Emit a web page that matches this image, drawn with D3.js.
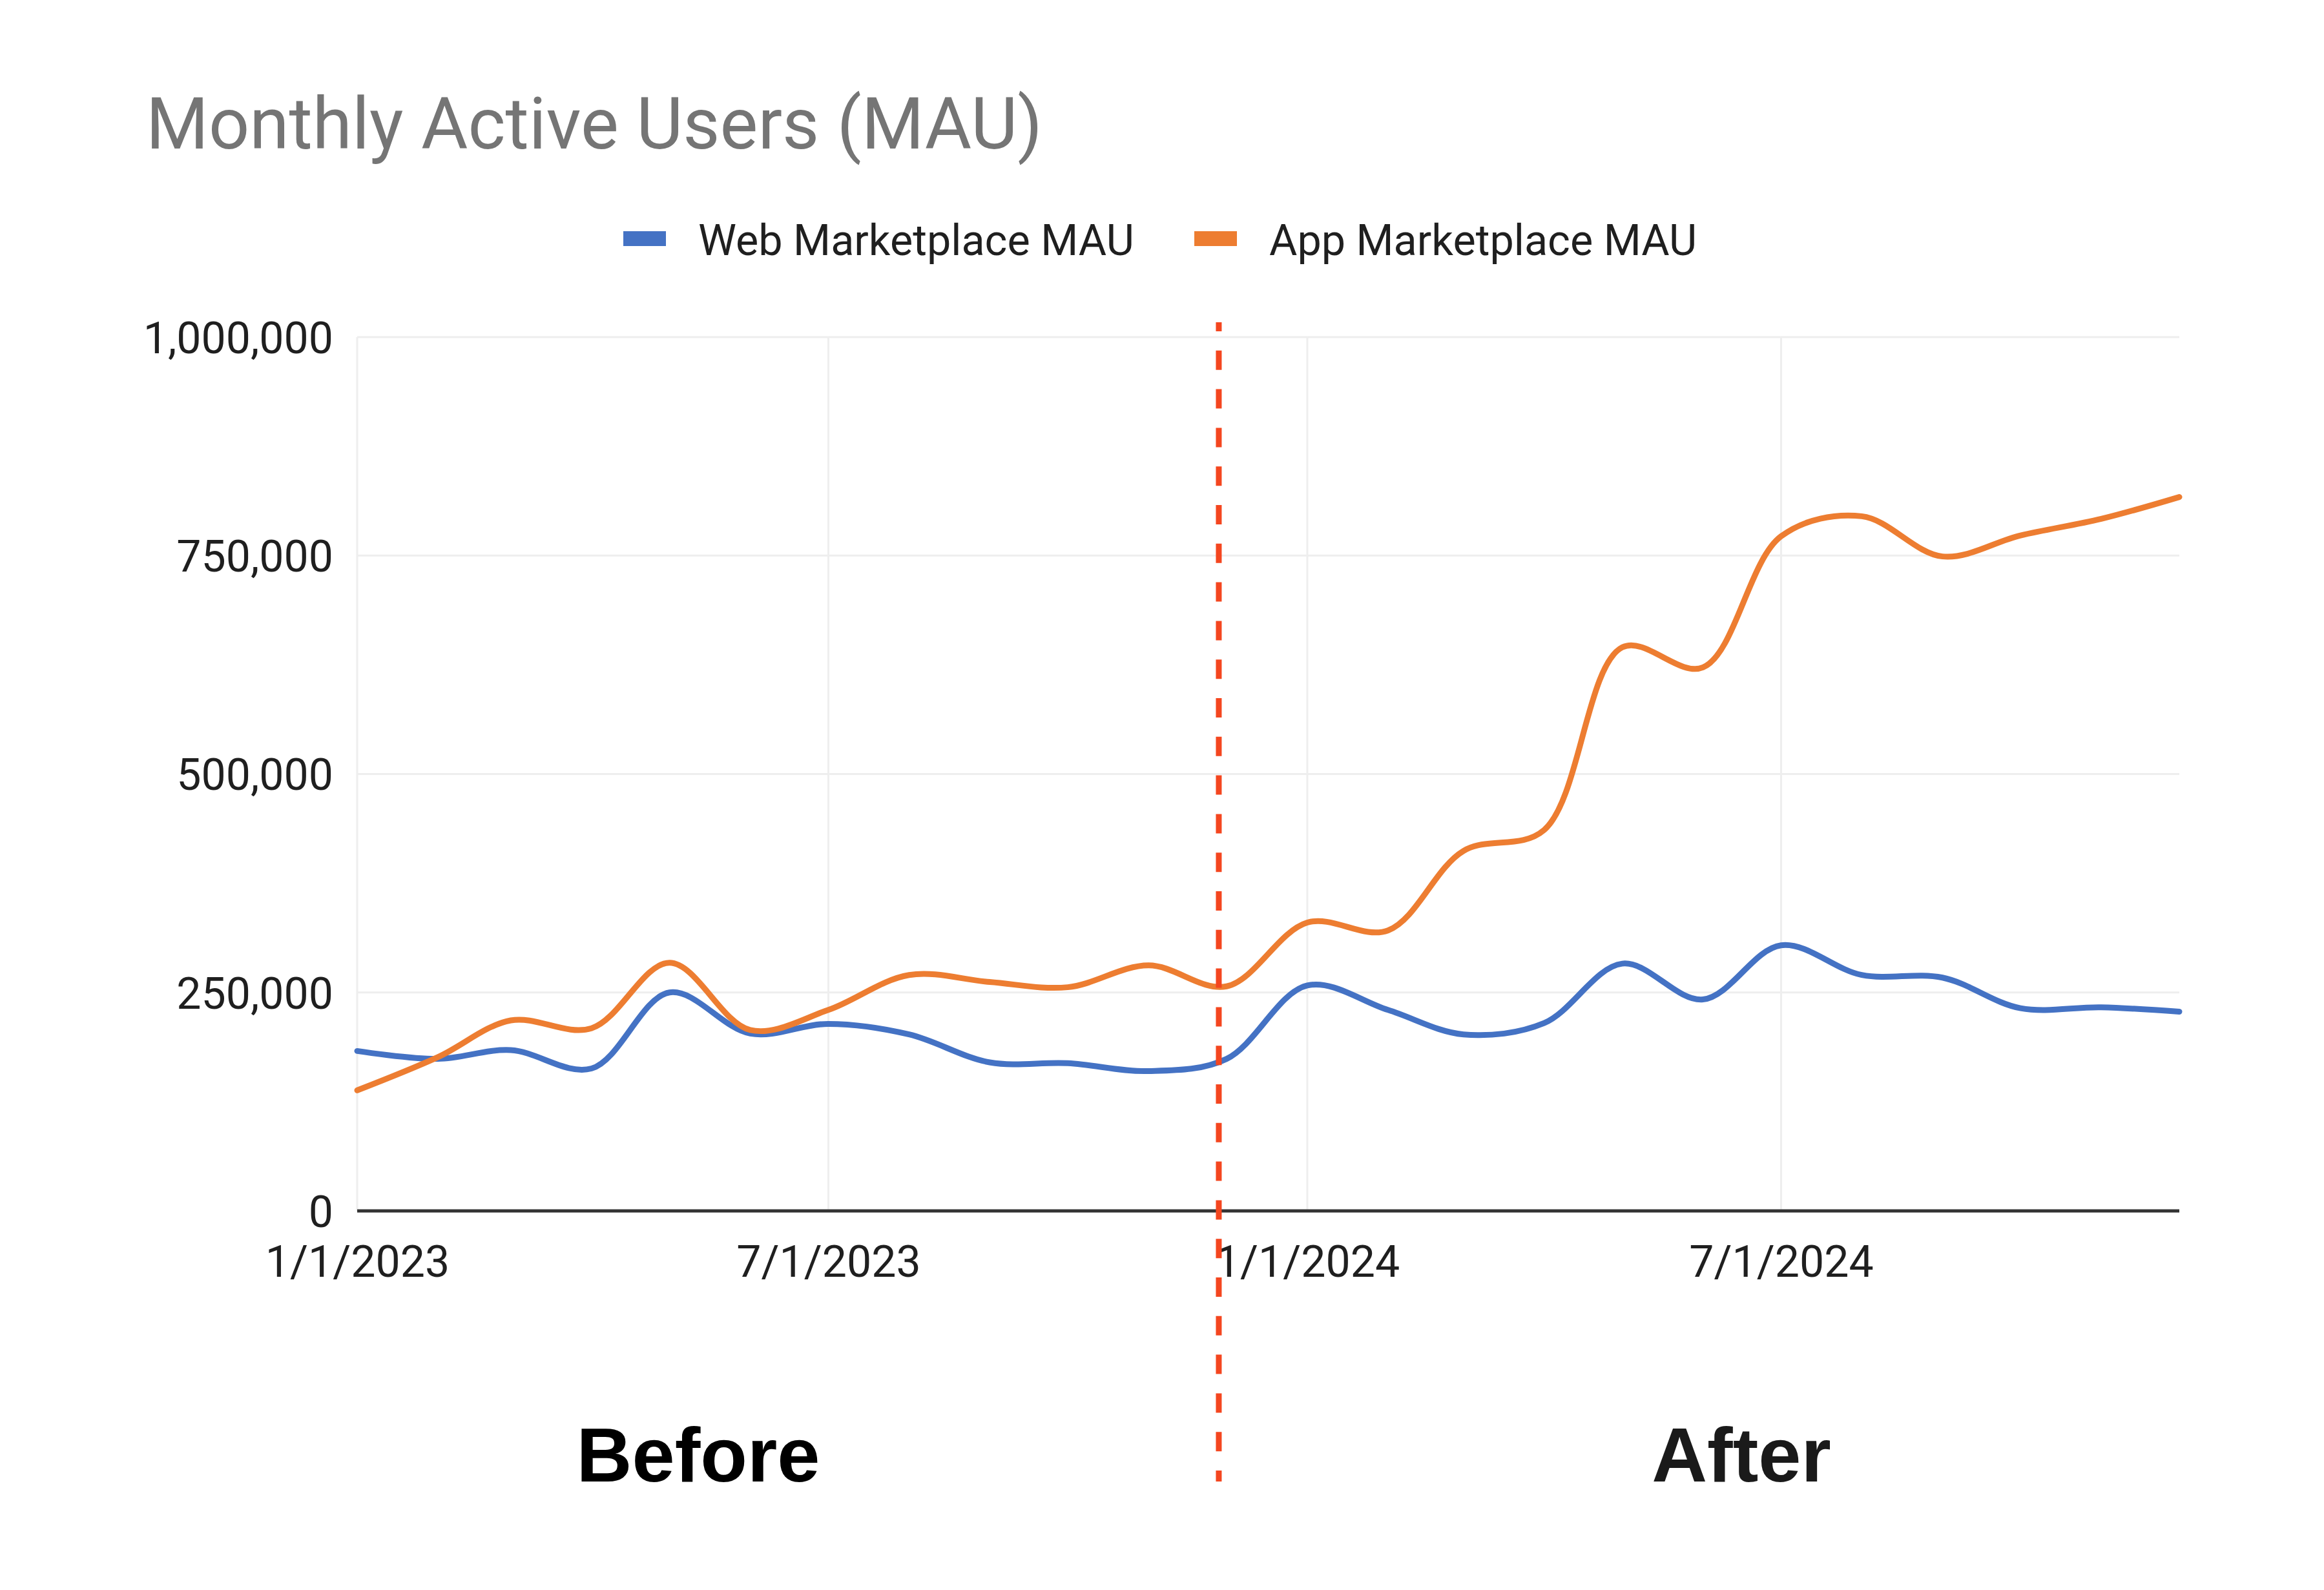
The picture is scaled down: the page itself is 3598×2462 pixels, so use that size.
<!DOCTYPE html>
<html>
<head>
<meta charset="utf-8">
<script src="https://cdn.jsdelivr.net/npm/d3@7"></script>
<style>
  html, body { margin: 0; padding: 0; background: #fff; }
  svg { display: block; }
</style>
</head>
<body>
<svg id="chart"></svg>
<script>
const WIDTH = 3598;
const HEIGHT = 2462;

// --- Data (monthly) ---
const months = [
    "2023-01-01", "2023-02-01", "2023-03-01", "2023-04-01", "2023-05-01", "2023-06-01",
    "2023-07-01", "2023-08-01", "2023-09-01", "2023-10-01", "2023-11-01", "2023-12-01",
    "2024-01-01", "2024-02-01", "2024-03-01", "2024-04-01", "2024-05-01", "2024-06-01",
    "2024-07-01", "2024-08-01", "2024-09-01", "2024-10-01", "2024-11-01", "2024-12-01"
];
const webMAU = [
    183000, 174000, 184000, 163000, 250000, 203000,
    214000, 202000, 170000, 169000, 160000, 174000,
    258000, 230000, 202000, 215000, 283000, 242000,
    304000, 270000, 267000, 232000, 233000, 228000
];
const appMAU = [
    138000, 176000, 218000, 209000, 284000, 207000,
    230000, 270000, 262000, 256000, 281000, 257000,
    330000, 321000, 412000, 436000, 645000, 622000,
    772000, 795000, 749000, 773000, 792000, 817000
];
const seriesNames = ["Web Marketplace MAU", "App Marketplace MAU"];
const seriesColors = ["#4472c4", "#ed7d31"];
const yTicks = [0, 250000, 500000, 750000, 1000000];
const xTicks = ["2023-01-01", "2023-07-01", "2024-01-01", "2024-07-01"];
const dividerDate = "2023-11-28";
const periodLabels = ["Before", "After"];

const parseDate = d3.timeParse("%Y-%m-%d");
const dates = months.map(parseDate);

// --- Layout ---
const plot = { left: 553, right: 3374, top: 522, bottom: 1875 };

const svg = d3.select("#chart")
    .attr("width", WIDTH)
    .attr("height", HEIGHT)
    .attr("viewBox", [0, 0, WIDTH, HEIGHT]);

svg.append("rect")
    .attr("width", WIDTH)
    .attr("height", HEIGHT)
    .attr("fill", "#fff");

const x = d3.scaleTime()
    .domain([dates[0], dates[dates.length - 1]])
    .range([plot.left, plot.right]);

const y = d3.scaleLinear()
    .domain([0, 1000000])
    .range([plot.bottom, plot.top]);

// Title
svg.append("text")
    .attr("x", 226)
    .attr("y", 230)
    .attr("font-family", "Roboto, sans-serif")
    .attr("font-size", 111)
    .attr("fill", "#757575")
    .text("Monthly Active Users (MAU)");

// Legend
const legendX = [965, 1849];
seriesNames.forEach((name, i) => {
    const g = svg.append("g").attr("transform", `translate(${legendX[i]},358)`);
    g.append("rect")
        .attr("width", 66)
        .attr("height", 23)
        .attr("fill", seriesColors[i]);
    g.append("text")
        .attr("x", 116)
        .attr("y", 37)
        .attr("font-family", "Roboto, sans-serif")
        .attr("font-size", 66.5)
        .attr("fill", "#1f1f1f")
        .text(name);
});

// Gridlines
svg.append("g")
    .selectAll("line")
    .data(yTicks.filter(d => d > 0))
    .join("line")
    .attr("x1", plot.left)
    .attr("x2", plot.right)
    .attr("y1", d => y(d))
    .attr("y2", d => y(d))
    .attr("stroke", "#eeeeee")
    .attr("stroke-width", 3);

svg.append("g")
    .selectAll("line")
    .data(xTicks.map(parseDate))
    .join("line")
    .attr("x1", d => x(d))
    .attr("x2", d => x(d))
    .attr("y1", plot.top)
    .attr("y2", plot.bottom)
    .attr("stroke", "#eeeeee")
    .attr("stroke-width", 3);

// Y axis labels
const yAxis = svg.append("g")
    .attr("transform", `translate(${plot.left - 37},0)`)
    .call(d3.axisLeft(y).tickValues(yTicks).tickFormat(d3.format(",")).tickSize(0).tickPadding(0));
yAxis.select(".domain").remove();
yAxis.selectAll("text")
    .attr("font-family", "Roboto, sans-serif")
    .attr("font-size", 68)
    .attr("fill", "#1f1f1f")
    .attr("dy", "0.36em");

// X axis labels
const xAxis = svg.append("g")
    .attr("transform", `translate(0,${plot.bottom})`)
    .call(d3.axisBottom(x)
        .tickValues(xTicks.map(parseDate))
        .tickFormat(d3.timeFormat("%-m/%-d/%Y"))
        .tickSize(0)
        .tickPadding(0));
xAxis.select(".domain").remove();
xAxis.selectAll("text")
    .attr("font-family", "Roboto, sans-serif")
    .attr("font-size", 68)
    .attr("fill", "#1f1f1f")
    .attr("dy", null)
    .attr("y", 102);

// Baseline
svg.append("line")
    .attr("x1", plot.left)
    .attr("x2", plot.right)
    .attr("y1", y(0))
    .attr("y2", y(0))
    .attr("stroke", "#333")
    .attr("stroke-width", 5);

// Lines
const line = d3.line()
    .x((d, i) => x(dates[i]))
    .y(d => y(d))
    .curve(d3.curveCatmullRom.alpha(0.5));

[webMAU, appMAU].forEach((values, i) => {
    svg.append("path")
        .datum(values)
        .attr("fill", "none")
        .attr("stroke", seriesColors[i])
        .attr("stroke-width", 9)
        .attr("stroke-linejoin", "round")
        .attr("stroke-linecap", "round")
        .attr("d", line);
});

// Before / After divider
const dividerX = x(parseDate(dividerDate));
svg.append("line")
    .attr("x1", dividerX)
    .attr("x2", dividerX)
    .attr("y1", 499)
    .attr("y2", 2294)
    .attr("stroke", "#f4461f")
    .attr("stroke-width", 9)
    .attr("stroke-dasharray", "30,29.8")
    .attr("stroke-dashoffset", 16);

const labelX = [1081, 2696];
periodLabels.forEach((label, i) => {
    svg.append("text")
        .attr("x", labelX[i])
        .attr("y", 2294)
        .attr("text-anchor", "middle")
        .attr("font-family", "'Liberation Sans', Arial, sans-serif")
        .attr("font-weight", "bold")
        .attr("font-size", 119)
        .attr("fill", i === 0 ? "#000" : "#1a1a1a")
        .text(label);
});
</script>
</body>
</html>
